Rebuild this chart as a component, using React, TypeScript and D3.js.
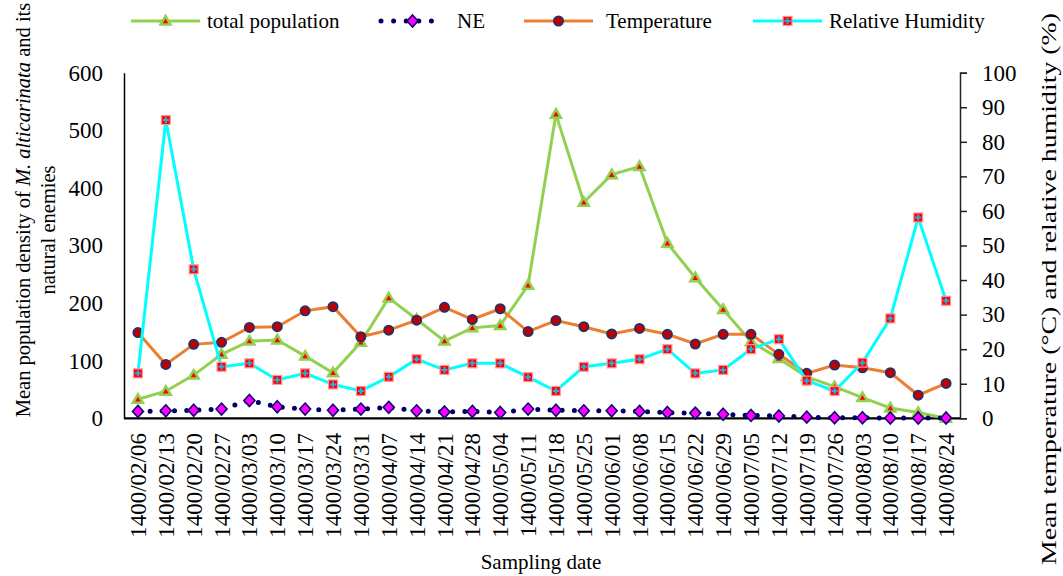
import React, { useEffect, useRef } from "react";
import * as d3 from "d3";

// sampling dates (Solar Hijri calendar)
const dates = [
  "1400/02/06", "1400/02/13", "1400/02/20", "1400/02/27", "1400/03/03", "1400/03/10",
  "1400/03/17", "1400/03/24", "1400/03/31", "1400/04/07", "1400/04/14", "1400/04/21",
  "1400/04/28", "1400/05/04", "1400/05/11", "1400/05/18", "1400/05/25", "1400/06/01",
  "1400/06/08", "1400/06/15", "1400/06/22", "1400/06/29", "1400/07/05", "1400/07/12",
  "1400/07/19", "1400/07/26", "1400/08/03", "1400/08/10", "1400/08/17", "1400/08/24",
];

// left axis series
const totalPopulation = [
  33, 47, 75, 111, 134, 136, 108, 79, 132, 209, 172, 134, 157, 161, 231,
  528, 375, 423, 437, 304, 244, 189, 133, 104, 72, 55, 36, 18, 10, 0,
];
const naturalEnemies = [
  12, 13, 14, 16, 31, 20, 16, 14, 16, 19, 13, 11, 12, 10, 16,
  14, 13, 13, 12, 10, 9, 7, 5, 4, 2, 1, 1, 0.5, 0.5, 0.5,
];

// right axis series
const temperature = [
  24.8, 15.6, 21.4, 22.0, 26.3, 26.5, 31.1, 32.3, 23.6, 25.5, 28.4, 32.1, 28.6, 31.7, 25.1,
  28.3, 26.5, 24.4, 26.0, 24.3, 21.5, 24.3, 24.3, 18.5, 13.0, 15.4, 14.6, 13.2, 6.7, 10.1,
];
const humidity = [
  13.0, 86.3, 43.1, 14.9, 15.9, 11.1, 13.0, 9.8, 7.9, 12.0, 17.1, 14.0, 15.9, 15.9, 11.9,
  7.9, 14.9, 15.9, 17.1, 20.0, 13.0, 14.0, 20.0, 22.9, 10.9, 7.9, 16.1, 28.9, 58.1, 34.0,
];

const leftTicks = [0, 100, 200, 300, 400, 500, 600];
const rightTicks = [0, 10, 20, 30, 40, 50, 60, 70, 80, 90, 100];

const legendLabels = ["total population", "NE", "Temperature", "Relative Humidity"];

const FONT = "'Liberation Serif', 'Times New Roman', serif";

// marker drawers
const triangle = (g, x, y) => {
  g.append("path")
    .attr("d", `M${x},${y - 5}L${x + 5},${y + 3.5}L${x - 5},${y + 3.5}Z`)
    .attr("fill", "#ff0000")
    .attr("stroke", "#92d050")
    .attr("stroke-width", 2.5);
};
const diamond = (g, x, y) => {
  g.append("path")
    .attr("d", `M${x},${y - 6}L${x + 5.5},${y}L${x},${y + 6}L${x - 5.5},${y}Z`)
    .attr("fill", "#ff00ff")
    .attr("stroke", "#0c0c6e")
    .attr("stroke-width", 1.6);
};
const circle = (g, x, y) => {
  g.append("circle")
    .attr("cx", x)
    .attr("cy", y)
    .attr("r", 4.6)
    .attr("fill", "#c00000")
    .attr("stroke", "#1f3370")
    .attr("stroke-width", 1.8);
};
const square = (g, x, y) => {
  g.append("rect")
    .attr("x", x - 4.5)
    .attr("y", y - 4.5)
    .attr("width", 9)
    .attr("height", 9)
    .attr("fill", "#ff0000")
    .attr("stroke", "#ff9a9a")
    .attr("stroke-width", 1.2);
  g.append("path")
    .attr("d", `M${x - 3},${y}H${x + 3}M${x},${y - 3}V${y + 3}`)
    .attr("stroke", "#2fa8e0")
    .attr("stroke-width", 2);
};

const Chart = () => {
  const svgRef = useRef(null);

  useEffect(() => {
    const width = 1063;
    const height = 576;
    const left = 124;
    const right = 960;
    const top = 72.7;
    const bottom = 418.3;

    const svg = d3.select(svgRef.current);
    svg.selectAll("*").remove();
    svg.attr("width", width).attr("height", height);

    const x = d3.scalePoint().domain(dates).range([left, right]).padding(0.5);
    const yLeft = d3.scaleLinear().domain([0, 600]).range([bottom, top]);
    const yRight = d3.scaleLinear().domain([0, 100]).range([bottom, top]);

    // left axis
    const gLeft = svg
      .append("g")
      .attr("transform", `translate(${left},0)`)
      .call(d3.axisLeft(yLeft).tickValues(leftTicks).tickSize(0).tickPadding(21));
    gLeft.select(".domain").attr("stroke", "#000").attr("stroke-width", 1.5);
    gLeft.selectAll("text").attr("font-family", FONT).attr("font-size", 23).attr("fill", "#000");

    // right axis
    const gRight = svg
      .append("g")
      .attr("transform", `translate(${right},0)`)
      .call(d3.axisRight(yRight).tickValues(rightTicks).tickSize(7).tickPadding(15).tickSizeOuter(7));
    gRight.select(".domain").attr("stroke", "#222").attr("stroke-width", 1.5);
    gRight.selectAll("line").attr("stroke", "#222").attr("stroke-width", 1.5);
    gRight.selectAll("text").attr("font-family", FONT).attr("font-size", 23).attr("fill", "#000");

    // bottom axis line
    svg
      .append("line")
      .attr("x1", left)
      .attr("x2", right)
      .attr("y1", bottom)
      .attr("y2", bottom)
      .attr("stroke", "#000")
      .attr("stroke-width", 2.2);

    // x tick labels, rotated
    svg
      .append("g")
      .selectAll("text")
      .data(dates)
      .enter()
      .append("text")
      .attr("transform", (d) => `translate(${x(d)},433) rotate(-90)`)
      .attr("text-anchor", "end")
      .attr("dy", "0.35em")
      .attr("font-family", FONT)
      .attr("font-size", 23)
      .text((d) => d);

    // axis titles
    svg
      .append("text")
      .attr("x", 541)
      .attr("y", 569)
      .attr("text-anchor", "middle")
      .attr("font-family", FONT)
      .attr("font-size", 21)
      .text("Sampling date");

    const t1 = svg
      .append("text")
      .attr("transform", "translate(30,210) rotate(-90)")
      .attr("text-anchor", "middle")
      .attr("font-family", FONT)
      .attr("font-size", 20.5);
    t1.append("tspan").text("Mean population density of ");
    t1.append("tspan").attr("font-style", "italic").text("M. alticarinata");
    t1.append("tspan").text(" and its");

    svg
      .append("text")
      .attr("transform", "translate(55,230) rotate(-90)")
      .attr("text-anchor", "middle")
      .attr("font-family", FONT)
      .attr("font-size", 20.5)
      .text("natural enemies");

    svg
      .append("text")
      .attr("transform", "translate(1056,289) rotate(-90)")
      .attr("text-anchor", "middle")
      .attr("font-family", FONT)
      .attr("font-size", 21.5)
      .attr("textLength", 552)
      .attr("lengthAdjust", "spacingAndGlyphs")
      .text("Mean temperature (\u00b0C) and relative humidity (%)");

    const line = (scale) =>
      d3
        .line()
        .x((d, i) => x(dates[i]))
        .y((d) => scale(d));

    // total population
    const gTot = svg.append("g");
    gTot
      .append("path")
      .datum(totalPopulation)
      .attr("d", line(yLeft))
      .attr("fill", "none")
      .attr("stroke", "#92d050")
      .attr("stroke-width", 3);
    totalPopulation.forEach((v, i) => triangle(gTot, x(dates[i]), yLeft(v)));

    // natural enemies
    const gNe = svg.append("g");
    gNe
      .append("path")
      .datum(naturalEnemies)
      .attr("d", line(yLeft))
      .attr("fill", "none")
      .attr("stroke", "#000066")
      .attr("stroke-width", 5)
      .attr("stroke-linecap", "round")
      .attr("stroke-dasharray", "0 12.2");
    naturalEnemies.forEach((v, i) => diamond(gNe, x(dates[i]), yLeft(v)));

    // temperature
    const gTemp = svg.append("g");
    gTemp
      .append("path")
      .datum(temperature)
      .attr("d", line(yRight))
      .attr("fill", "none")
      .attr("stroke", "#ed7d31")
      .attr("stroke-width", 3);
    temperature.forEach((v, i) => circle(gTemp, x(dates[i]), yRight(v)));

    // relative humidity
    const gHum = svg.append("g");
    gHum
      .append("path")
      .datum(humidity)
      .attr("d", line(yRight))
      .attr("fill", "none")
      .attr("stroke", "#00ffff")
      .attr("stroke-width", 3);
    humidity.forEach((v, i) => square(gHum, x(dates[i]), yRight(v)));

    // legend
    const ly = 21;
    const legendItems = [
      { x0: 131, x1: 200, tx: 207, color: "#92d050", marker: triangle, dotted: false },
      { x0: 381, x1: 444, tx: 457, color: "#000066", marker: diamond, dotted: true },
      { x0: 524, x1: 593, tx: 606, color: "#ed7d31", marker: circle, dotted: false },
      { x0: 753, x1: 822, tx: 829, color: "#00ffff", marker: square, dotted: false },
    ];
    const gLeg = svg.append("g");
    legendItems.forEach((d, i) => {
      const l = gLeg
        .append("line")
        .attr("x1", d.x0)
        .attr("x2", d.x1)
        .attr("y1", ly)
        .attr("y2", ly)
        .attr("stroke", d.color);
      if (d.dotted) {
        l.attr("stroke-width", 5).attr("stroke-linecap", "round").attr("stroke-dasharray", "0 12.6");
      } else {
        l.attr("stroke-width", 3);
      }
      d.marker(gLeg, (d.x0 + d.x1) / 2, ly);
      gLeg
        .append("text")
        .attr("x", d.tx)
        .attr("y", ly)
        .attr("dy", "0.35em")
        .attr("font-family", FONT)
        .attr("font-size", 21)
        .text(legendLabels[i]);
    });
  }, []);

  return <svg ref={svgRef} style={{ position: "absolute", left: 0, top: 0, background: "#fff" }}></svg>;
};

export default function App() {
  return <Chart />;
}
